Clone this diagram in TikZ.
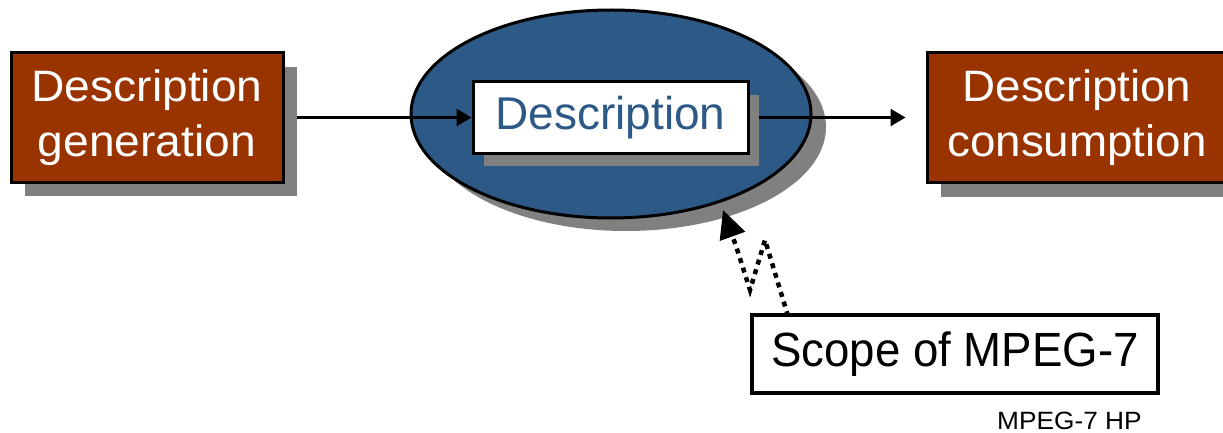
\documentclass[tikz,border=0pt]{standalone}
\usepackage{fontspec}
\setmainfont{Liberation Sans}
\usetikzlibrary{arrows.meta,shapes.geometric,shadows}
\definecolor{brickred}{RGB}{153,51,0}
\definecolor{ovalblue}{RGB}{45,89,134}
\definecolor{shadowgray}{RGB}{128,128,128}
\pgfdeclarelayer{bg}
\pgfdeclarelayer{lines}
\pgfsetlayers{bg,lines,main}
\begin{document}
\begin{tikzpicture}[x=1pt,y=-1pt,
  brownbox/.style={draw=black, line width=3pt, fill=brickred, text=white,
    align=center, inner sep=0pt, font=\fontsize{44}{55}\selectfont,
    drop shadow={shadow xshift=14pt, shadow yshift=-14pt, fill=shadowgray, opacity=1}},
  oval/.style={ellipse, draw=black, line width=3pt, fill=ovalblue, inner sep=0pt,
    drop shadow={shadow xshift=15pt, shadow yshift=-13pt, fill=shadowgray, opacity=1}},
  descbox/.style={draw=black, line width=3pt, fill=white, text=ovalblue, inner sep=0pt,
    font=\fontsize{46}{55}\selectfont,
    drop shadow={shadow xshift=11pt, shadow yshift=-13pt, fill=shadowgray, opacity=1}},
  scopebox/.style={draw=black, line width=3.5pt, fill=white, text=black, inner sep=0pt,
    font=\fontsize{48}{55}\selectfont},
  flow/.style={draw=black, line width=2.5pt, -{Triangle[length=15pt,width=17pt]}},
  scopelink/.style={draw=black, line width=4.5pt, dash pattern=on 5pt off 5pt,
    -{Triangle[length=28pt,width=26pt]}},
  credit/.style={font=\fontsize{25}{27}\selectfont, inner sep=0pt, anchor=base west}
]
\useasboundingbox (0,0) rectangle (1223,433);

\begin{pgfonlayer}{bg}
  \node[oval, minimum width=400pt, minimum height=208pt] (oval) at (611,114) {};
\end{pgfonlayer}

\node[brownbox, minimum width=272pt, minimum height=129pt] (gen) at (147,117.5)
  {\scalebox{1.05}[1]{Description}\\\scalebox{1.05}[1]{generation}};
\node[brownbox, minimum width=300pt, minimum height=130pt] (cons) at (1077,117.5)
  {\scalebox{1.04}[1]{Description}\\\scalebox{1.04}[1]{consumption}};
\node[descbox, minimum width=275pt, minimum height=71pt] (desc) at (610.5,117.5) {Description};
\node[scopebox, minimum width=406pt, minimum height=78pt] (scope) at (955,354)
  {\scalebox{0.95}[1]{Scope of MPEG-7}};
\node[credit] (hp) at (997,429) {\scalebox{1.05}[1]{MPEG-7 HP}};

\coordinate (z0) at (788,316);
\coordinate (z1) at (765,240);
\coordinate (z2) at (750,290);
\coordinate (z3) at (736,246);
\coordinate (tip) at (723,210);

\begin{pgfonlayer}{lines}
  \draw[flow] (gen.east) -- (desc.west);
  \draw[flow, shorten >=20pt] (desc.east) -- (cons.west);
  \draw[scopelink] (z0) -- (z1) -- (z2) -- (z3) -- (tip);
\end{pgfonlayer}
\end{tikzpicture}
\end{document}
